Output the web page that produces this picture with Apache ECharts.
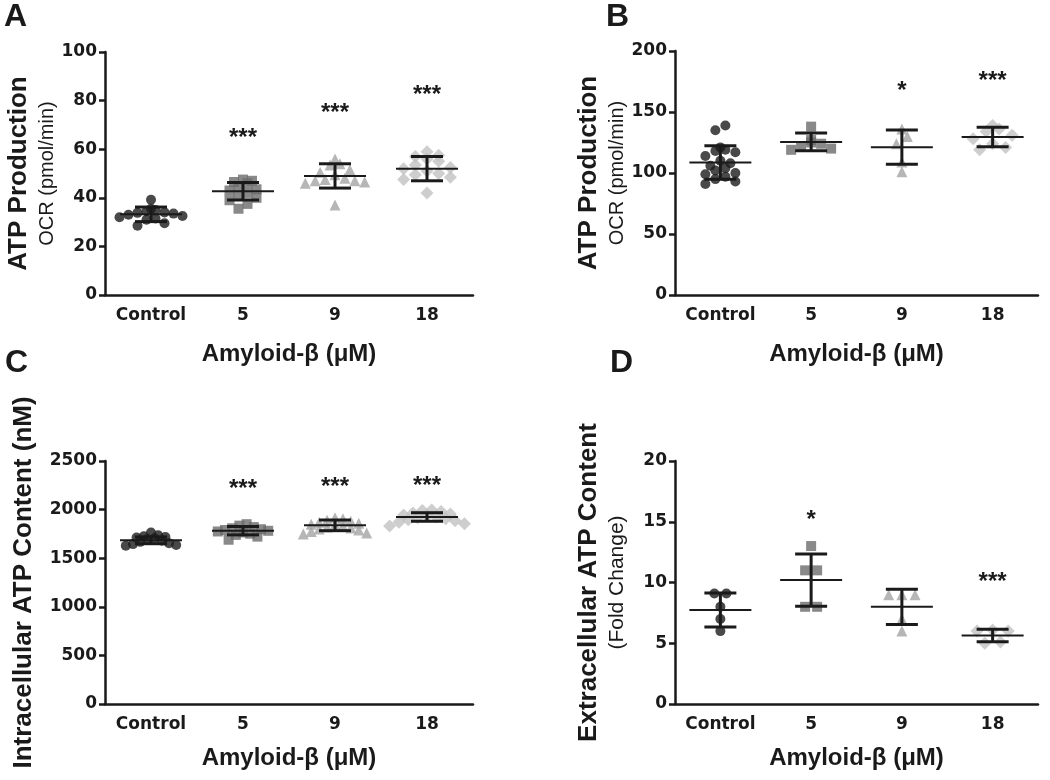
<!DOCTYPE html>
<html>
<head>
<meta charset="utf-8">
<script src="https://cdn.jsdelivr.net/npm/echarts@6/dist/echarts.min.js"></script>
<style>
    html, body { margin: 0; padding: 0; background: #fff; }
    #chart { width: 1050px; height: 780px; }
</style>
</head>
<body>
<div id="chart"></div>
<script>
//groups on the x axis
const groups = ["Control", "5", "9", "18"];

//panel A - ATP production (OCR, pmol/min)
const aControl = [39.2, 35.5, 35, 34.5, 34, 33.8, 33.5, 33, 32.5, 32, 31.5, 31, 29.5, 28.5];
const a5 = [47.5, 47, 46.5, 46, 44.5, 43.5, 43, 42, 41, 40, 39, 37.5, 35.5];
const a9 = [56, 54, 53.5, 51.5, 50.5, 49.5, 48, 47.5, 47, 47, 46.5, 46, 37];
const a18 = [59, 57.5, 57, 56, 55, 53.5, 52.5, 52, 51, 50, 49.5, 48.5, 47.5, 42];
const aMean = [33.2, 42.7, 49, 52];
const aSD = [3, 3.6, 5, 5];
const aStars = ["", "***", "***", "***"];
const aStarY = [null, 67, 77.3, 84.7];

//panel B - ATP production (OCR, pmol/min)
const bControl = [139, 135, 121, 119, 118, 117, 114, 110, 108, 106, 104, 102, 100, 99, 97, 95, 93, 91];
const b5 = [138, 127, 125, 124, 122, 120, 119];
const b9 = [136, 130, 124, 109, 101];
const b18 = [139, 136, 134, 131, 128, 124, 121, 119];
const bMean = [108.6, 125.5, 121.2, 129.6];
const bSD = [13.7, 7.3, 14, 8];
const bStars = ["", "", "*", "***"];
const bStarY = [null, null, 172, 180];

//panel C - intracellular ATP (nM)
const cControl = [1765, 1735, 1725, 1718, 1712, 1705, 1695, 1680, 1668, 1655, 1645, 1635, 1628];
const c5 = [1850, 1835, 1820, 1808, 1798, 1790, 1782, 1775, 1765, 1752, 1740, 1722, 1690];
const c9 = [1915, 1905, 1890, 1880, 1870, 1860, 1850, 1840, 1830, 1820, 1810, 1800, 1790, 1775, 1760, 1750];
const c18 = [1995, 1990, 1980, 1965, 1955, 1945, 1935, 1925, 1915, 1905, 1895, 1885, 1870, 1855, 1830];
const cMean = [1684, 1783, 1838, 1924];
const cSD = [35, 43, 55, 44];
const cStars = ["", "***", "***", "***"];
const cStarY = [null, 2270, 2294, 2305];

//panel D - extracellular ATP (fold change)
const dControl = [9.1, 9.1, 8.0, 7.0, 6.0];
const d5 = [13.0, 11.0, 11.0, 8.0, 8.0];
const d9 = [9.0, 9.0, 9.0, 7.0, 6.0];
const d18 = [6.1, 6.0, 6.0, 5.1, 5.0];
const dMean = [7.74, 10.2, 8.0, 5.64];
const dSD = [1.4, 2.15, 1.45, 0.52];
const dStars = ["", "*", "", "***"];
const dStarY = [null, 15.6, null, 10.5];

//marker look per group
const symbols = ["circle", "rect", "triangle", "diamond"];
const symbolSizes = [10, 10, 11, 13];
const colors = ["#1c1c1c", "#6b6b6b", "#a4a4a4", "#c2c2c2"];
const ink = "#1a1a1a";
const tickFont = "DejaVu Sans";
const titleFont = "Liberation Sans";

const panels = [
    {
        points: [aControl, a5, a9, a18], mean: aMean, sd: aSD, stars: aStars, starY: aStarY,
        grid: { left: 105, top: 52, width: 368, height: 243 }, max: 100, interval: 20, pack: 0.9,
        yName: "{t|ATP Production}\n{s|OCR (pmol/min)}", yNameGap: 45, xNameGap: 47
    },
    {
        points: [bControl, b5, b9, b18], mean: bMean, sd: bSD, stars: bStars, starY: bStarY,
        grid: { left: 675, top: 51, width: 363, height: 244 }, max: 200, interval: 50, pack: 1,
        yName: "{t|ATP Production}\n{s|OCR (pmol/min)}", yNameGap: 45, xNameGap: 47
    },
    {
        points: [cControl, c5, c9, c18], mean: cMean, sd: cSD, stars: cStars, starY: cStarY,
        grid: { left: 105, top: 461, width: 368, height: 243 }, max: 2500, interval: 500, pack: 0.72,
        yName: "{t|Intracellular ATP Content (nM)}", yNameGap: 66, xNameGap: 42
    },
    {
        points: [dControl, d5, d9, d18], mean: dMean, sd: dSD, stars: dStars, starY: dStarY,
        grid: { left: 675, top: 461, width: 363, height: 243 }, max: 20, interval: 5, pack: 1.2,
        yName: "{t|Extracellular ATP Content}\n{f|(Fold Change)}", yNameGap: 45, xNameGap: 42
    }
];

//spread points of one group sideways in rows, like a scatter dot plot
//(highest value of a row in the middle, the rest going outwards)
function spread(vals, ppu, size, pack) {
    const order = vals.map((v, i) => i).sort((a, b) => vals[a] - vals[b]);
    const rows = [];
    order.forEach(i => {
        const row = rows[rows.length - 1];
        if (row && (vals[i] - vals[row[0]]) * ppu < size * 0.8) row.push(i);
        else rows.push([i]);
    });
    const off = [];
    rows.forEach(row => {
        const n = row.length;
        const slots = d3range(n).map(j => j - (n - 1) / 2)
            .sort((a, b) => Math.abs(a) - Math.abs(b) || b - a);
        row.slice().reverse().forEach((i, j) => { off[i] = slots[j] * size * pack; });
    });
    return off;
}

function d3range(n) {
    return Array.from({ length: n }, (d, i) => i);
}

const grid = [], xAxis = [], yAxis = [], series = [];

panels.forEach((p, k) => {
    grid.push(p.grid);

    xAxis.push({
        type: "category", gridIndex: k, data: groups,
        axisLine: { lineStyle: { color: ink, width: 2.5 } },
        axisTick: { alignWithLabel: true, length: 6, lineStyle: { color: ink, width: 2.5 } },
        axisLabel: { interval: 0, color: ink, fontFamily: tickFont, fontWeight: "bold", fontSize: 17, margin: 12 },
        name: "Amyloid-β (μM)", nameLocation: "middle", nameGap: p.xNameGap,
        nameTextStyle: { color: ink, fontFamily: titleFont, fontWeight: "bold", fontSize: 24 }
    });

    yAxis.push({
        type: "value", gridIndex: k, min: 0, max: p.max, interval: p.interval,
        axisLine: { show: true, lineStyle: { color: ink, width: 2.5 } },
        axisTick: { show: true, length: 6, lineStyle: { color: ink, width: 2.5 } },
        axisLabel: {
            color: ink, fontFamily: tickFont, fontWeight: "bold", fontSize: 17, margin: 8,
            formatter: v => String(v)
        },
        splitLine: { show: false },
        name: p.yName, nameLocation: "middle", nameGap: p.yNameGap, nameRotate: 90,
        nameTextStyle: {
            color: ink,
            rich: {
                t: { fontFamily: titleFont, fontWeight: "bold", fontSize: 26, lineHeight: 30, color: ink },
                s: { fontFamily: titleFont, fontSize: 20, lineHeight: 26, color: ink },
                f: { fontFamily: titleFont, fontSize: 21, lineHeight: 26, color: ink }
            }
        }
    });

    const ppu = p.grid.height / p.max;

    //individual points
    p.points.forEach((vals, g) => {
        const off = spread(vals, ppu, symbolSizes[g], p.pack);
        series.push({
            type: "scatter", xAxisIndex: k, yAxisIndex: k, z: 2,
            symbol: symbols[g], symbolSize: symbolSizes[g],
            itemStyle: { color: colors[g] },
            silent: true,
            data: vals.map((v, i) => ({ value: [g, v], symbolOffset: [off[i], 0] }))
        });
    });

    //mean line and SD bars
    series.push({
        type: "custom", xAxisIndex: k, yAxisIndex: k, z: 5, silent: true,
        encode: { x: 0, y: 1 },
        data: groups.map((g, i) => [i, p.mean[i], p.sd[i]]),
        renderItem: (params, api) => {
            const x = api.value(0), m = api.value(1), s = api.value(2);
            const c = api.coord([x, m]);
            const hi = api.coord([x, m + s]);
            const lo = api.coord([x, m - s]);
            const st = { stroke: ink, lineWidth: 3 };
            return {
                type: "group",
                children: [
                    { type: "line", shape: { x1: c[0] - 31, y1: c[1], x2: c[0] + 31, y2: c[1] }, style: { stroke: ink, lineWidth: 2 } },
                    { type: "line", shape: { x1: c[0], y1: hi[1], x2: c[0], y2: lo[1] }, style: st },
                    { type: "line", shape: { x1: c[0] - 16, y1: hi[1], x2: c[0] + 16, y2: hi[1] }, style: st },
                    { type: "line", shape: { x1: c[0] - 16, y1: lo[1], x2: c[0] + 16, y2: lo[1] }, style: st }
                ]
            };
        }
    });

    //significance stars
    series.push({
        type: "custom", xAxisIndex: k, yAxisIndex: k, z: 6, silent: true,
        encode: { x: 0, y: 1 },
        data: groups.map((g, i) => [i, p.starY[i]]).filter(d => d[1] != null),
        renderItem: (params, api) => {
            const c = api.coord([api.value(0), api.value(1)]);
            return {
                type: "text", x: c[0], y: c[1] + 6,
                style: {
                    text: p.stars[api.value(0)], fill: ink,
                    font: `bold 24px "${titleFont}"`, textAlign: "center", textVerticalAlign: "middle"
                }
            };
        }
    });
});

//panel letters
const letters = [["A", 4, 1], ["B", 606, 1], ["C", 5, 347], ["D", 610, 347]];

const chart = echarts.init(document.getElementById("chart"));
chart.setOption({
    animation: false,
    backgroundColor: "#fff",
    grid: grid,
    xAxis: xAxis,
    yAxis: yAxis,
    series: series,
    graphic: letters.map(l => ({
        type: "text", left: l[1], top: l[2],
        style: { text: l[0], fill: ink, font: `bold 32px "${titleFont}"` }
    }))
});
</script>
</body>
</html>
